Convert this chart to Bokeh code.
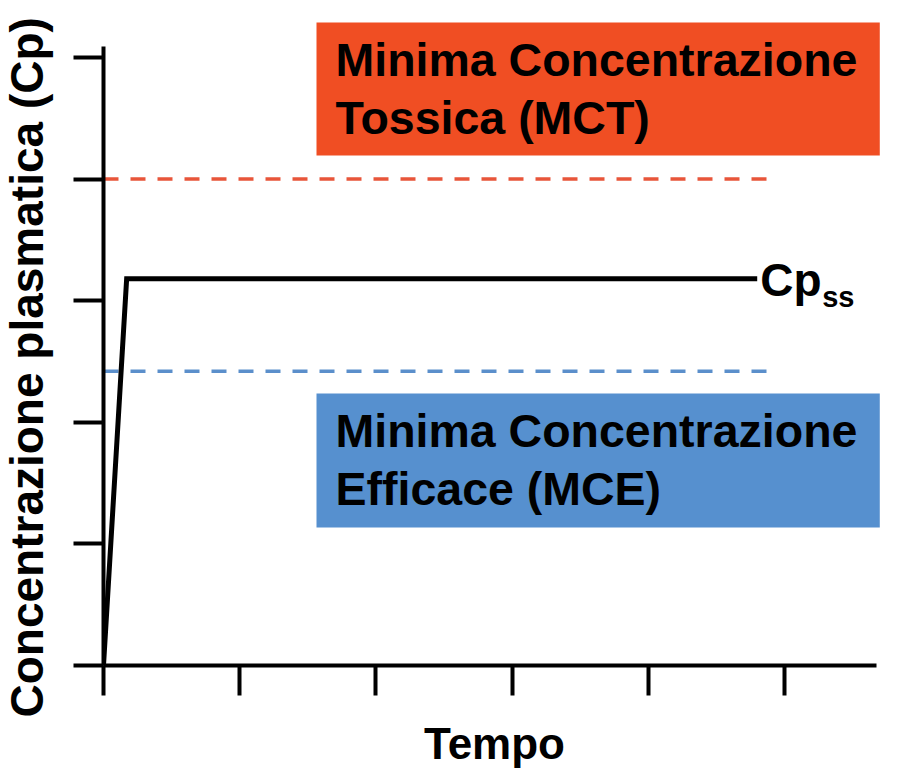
from bokeh.plotting import figure
from bokeh.models import Range1d, FixedTicker, Title, LinearAxis
from bokeh.core.properties import value
from bokeh.embed import file_html
from bokeh.resources import INLINE

# ---- data ----
time = [0.0, 0.17, 4.80]          # Tempo
cp = [0.0, 3.18, 3.18]            # Concentrazione plasmatica
ticks = [0, 1, 2, 3, 4, 5]
mct_level = 4.0                   # Minima Concentrazione Tossica
mce_level = 2.42                  # Minima Concentrazione Efficace
threshold_x = [0.0, 4.88]

zone_left = [1.564, 1.564]
zone_right = [5.70, 5.70]
zone_bottom = [4.194, 1.135]
zone_top = [5.288, 2.237]
zone_colors = ["#F04E23", "#5690CF"]
zone_text = ["Minima Concentrazione\nTossica (MCT)",
             "Minima Concentrazione\nEfficace (MCE)"]

FONT = value("Liberation Sans")

p = figure(width=892, height=772,
           x_range=Range1d(0, 5.742), y_range=Range1d(0, 5.37),
           output_backend="svg", toolbar_location=None,
           min_border_left=103, min_border_right=7,
           min_border_top=12, min_border_bottom=107)
p.outline_line_color = None
p.xgrid.visible = False
p.ygrid.visible = False
p.background_fill_color = "white"

# boxes
p.quad(left=zone_left, right=zone_right, bottom=zone_bottom, top=zone_top,
       fill_color=zone_colors, line_color=None)

p.text(x=zone_left, y=zone_top, text=zone_text,
       x_offset=19, y_offset=12,
       text_font=FONT, text_font_style="bold", text_font_size="46.5px",
       text_color="black", text_align="left", text_baseline="top",
       text_line_height=1.10)

# threshold lines
p.line(threshold_x, [mct_level, mct_level], line_color="#E8553A",
       line_width=3.5, line_dash="15 12")
p.line(threshold_x, [mce_level, mce_level], line_color="#5B8FCB",
       line_width=3.5, line_dash="15 12")

# concentration curve
p.line(time, cp, line_color="black", line_width=5, line_join="miter")

p.text(x=[time[-1]], y=[cp[-1]], text=["Cp"], x_offset=3, y_offset=-25,
       text_font=FONT, text_font_style="bold", text_font_size="46px",
       text_color="black", text_align="left", text_baseline="top")
p.text(x=[time[-1]], y=[cp[-1]], text=["ss"], x_offset=65, y_offset=2,
       text_font=FONT, text_font_style="bold", text_font_size="29px",
       text_color="black", text_align="left", text_baseline="top")

# axes
for ax, bnd in ((p.xaxis, (0, 5.675)), (p.yaxis, (0, 5.09))):
    ax.ticker = FixedTicker(ticks=ticks)
    ax.bounds = bnd
    ax.axis_line_width = 4
    ax.axis_line_color = "black"
    ax.major_tick_line_width = 4
    ax.major_tick_line_color = "black"
    ax.major_tick_out = 30
    ax.major_tick_in = 0
    ax.minor_tick_line_color = None
    ax.major_label_overrides = {t: "" for t in ticks}
    ax.major_label_standoff = 0

p.xaxis.axis_label = "Tempo"
p.xaxis.axis_label_text_font = "Liberation Sans"
p.xaxis.axis_label_text_font_style = "bold"
p.xaxis.axis_label_text_color = "black"
p.xaxis.axis_label_text_font_size = "44px"
p.xaxis.axis_label_standoff = 23

# invisible spacer between the y axis and its title
spacer = LinearAxis(ticker=FixedTicker(ticks=ticks), bounds=(0, 5.09),
                    axis_line_color=None, major_tick_line_color=None,
                    minor_tick_line_color=None, major_tick_out=19,
                    major_tick_in=0, major_label_text_color=None,
                    major_label_overrides={t: "" for t in ticks},
                    major_label_standoff=0)
p.add_layout(spacer, "left")

ytitle = Title(text="Concentrazione plasmatica (Cp)", align="left",
               vertical_align="top", offset=-52, standoff=0,
               text_font="Liberation Sans", text_font_style="bold",
               text_font_size="46px", text_color="black")
p.add_layout(ytitle, "left")

open("out.html", "w").write(file_html(p, INLINE))
